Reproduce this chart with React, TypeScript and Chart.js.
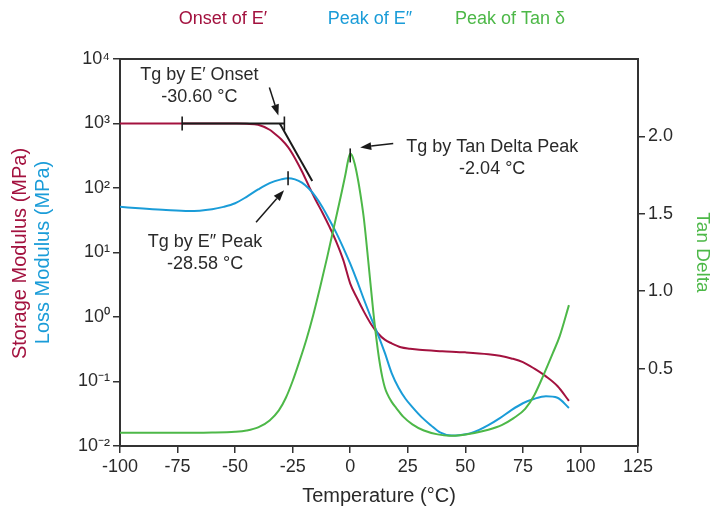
import React, { useEffect, useRef } from 'react';
import { Chart, registerables } from 'chart.js';

Chart.register(...registerables);

const FONT = '"Liberation Sans", Arial, sans-serif';
const TEXT = '#2a2a2a';
const AXIS = '#333333';
const RED = '#A3123F';
const BLUE = '#1A9CD8';
const GREEN = '#4DB848';

// Storage modulus E' (MPa)
const storageTemps = [-100, -80, -60, -50, -45, -40, -35, -33, -30, -27, -24, -21, -18, -15, -12, -9, -6, -3, 0, 3, 6, 9, 12, 15, 18, 22, 26, 30, 40, 50, 60, 65, 70, 75, 80, 85, 90, 95];
const storageMPa = [1000, 1000, 1000, 998, 990, 955, 800, 705, 570, 430, 290, 182, 108, 65, 41, 25, 14.5, 7.6, 3.3, 1.95, 1.2, 0.78, 0.56, 0.445, 0.39, 0.34, 0.322, 0.31, 0.295, 0.283, 0.265, 0.25, 0.228, 0.2, 0.158, 0.12, 0.085, 0.05];

// Loss modulus E'' (MPa)
const lossTemps = [-100, -90, -80, -70, -60, -55, -50, -45, -40, -35, -30, -27, -24, -21, -18, -15, -12, -9, -6, -3, 0, 3, 6, 9, 12, 15, 18, 21, 24, 27, 31, 35, 39, 44, 48, 52, 56, 60, 65, 70, 75, 80, 85, 90, 95];
const lossMPa = [51, 48, 45.5, 44, 47, 51, 58, 73, 95, 119, 136, 142, 136, 121, 98, 73, 50, 32, 20, 11.8, 6.7, 3.6, 1.85, 0.98, 0.54, 0.28, 0.135, 0.08, 0.054, 0.04, 0.028, 0.021, 0.0162, 0.0145, 0.0148, 0.0157, 0.0178, 0.021, 0.027, 0.036, 0.046, 0.054, 0.059, 0.056, 0.039];

// Tan delta
const tanTemps = [-100, -80, -60, -50, -45, -40, -35, -31, -28, -25, -22, -19, -16, -13, -10, -7, -4, -2, -1, 0, 1, 2, 3.5, 5, 6, 8, 10, 12, 13, 14, 15, 16, 18, 20, 23, 27, 32, 38, 43, 48, 54, 60, 66, 71, 76, 80, 84, 88, 91, 95];
const tanDelta = [0.085, 0.085, 0.087, 0.092, 0.1, 0.12, 0.165, 0.23, 0.31, 0.42, 0.55, 0.69, 0.85, 1.03, 1.22, 1.42, 1.62, 1.76, 1.84, 1.89, 1.87, 1.82, 1.71, 1.57, 1.46, 1.17, 0.87, 0.62, 0.52, 0.44, 0.38, 0.34, 0.285, 0.245, 0.19, 0.14, 0.1, 0.075, 0.066, 0.07, 0.084, 0.105, 0.137, 0.18, 0.24, 0.33, 0.46, 0.6, 0.71, 0.91];

const yTickValues = [0.01, 0.1, 1, 10, 100, 1000, 10000];
const yTickLabels = ['10⁻²', '10⁻¹', '10⁰', '10¹', '10²', '10³', '10⁴'];
const y2TickValues = [0.5, 1.0, 1.5, 2.0];
const legendTexts = ['Onset of E′', 'Peak of E″', 'Peak of Tan δ'];
const legendColors = [RED, BLUE, GREEN];

// Annotation values
const onsetTg = -30.6;
const onsetMarkX = -28.6;
const onsetFromX = -73;
const plateauMPa = 1000;
const tangentEndX = -16.5;
const tangentEndMPa = 128;
const lossMarkX = -27;
const lossPeakMPa = 142;
const tanMarkX = 0;
const tanPeakValue = 1.89;
const onsetLabel = ['Tg by E′ Onset', '-30.60 °C'];
const lossLabel = ['Tg by E″ Peak', '-28.58 °C'];
const tanLabel = ['Tg by Tan Delta Peak', '-2.04 °C'];

function toPoints(xs: number[], ys: number[]) {
  return xs.map((x, i) => ({ x, y: ys[i] }));
}

function drawArrow(ctx: CanvasRenderingContext2D, x1: number, y1: number, x2: number, y2: number) {
  const ang = Math.atan2(y2 - y1, x2 - x1);
  const L = 11;
  const W = 4;
  const bx = x2 - L * Math.cos(ang);
  const by = y2 - L * Math.sin(ang);
  ctx.beginPath();
  ctx.moveTo(x1, y1);
  ctx.lineTo(bx, by);
  ctx.stroke();
  ctx.beginPath();
  ctx.moveTo(x2, y2);
  ctx.lineTo(bx + W * Math.sin(ang), by - W * Math.cos(ang));
  ctx.lineTo(bx - W * Math.sin(ang), by + W * Math.cos(ang));
  ctx.closePath();
  ctx.fill();
}

function vTick(ctx: CanvasRenderingContext2D, x: number, y: number, half = 7) {
  ctx.beginPath();
  ctx.moveTo(x, y - half);
  ctx.lineTo(x, y + half);
  ctx.stroke();
}

const annotatePlugin = {
  id: 'annotate',
  afterDatasetsDraw(chart: any) {
    const { ctx, chartArea: a, scales } = chart;
    const sx = scales.x;
    const sy = scales.y;
    const s2 = scales.y2;
    ctx.save();
    // top border of the frame
    ctx.strokeStyle = AXIS;
    ctx.lineWidth = 2;
    ctx.beginPath();
    ctx.moveTo(a.left - 1, a.top);
    ctx.lineTo(a.right + 1, a.top);
    ctx.stroke();

    ctx.strokeStyle = '#1a1a1a';
    ctx.fillStyle = '#1a1a1a';
    ctx.lineWidth = 2;

    // Onset of E'
    const py = sy.getPixelForValue(plateauMPa);
    const mx = sx.getPixelForValue(onsetMarkX);
    const fx = sx.getPixelForValue(onsetFromX);
    ctx.beginPath();
    ctx.moveTo(fx, py);
    ctx.lineTo(mx, py);
    ctx.stroke();
    ctx.lineWidth = 1.6;
    vTick(ctx, fx, py);
    vTick(ctx, mx, py);
    ctx.lineWidth = 2;
    ctx.beginPath();
    ctx.moveTo(sx.getPixelForValue(onsetTg), py);
    ctx.lineTo(sx.getPixelForValue(tangentEndX), sy.getPixelForValue(tangentEndMPa));
    ctx.stroke();
    ctx.lineWidth = 1.5;
    drawArrow(ctx, mx - 15, py - 36, mx - 6, py - 8);

    // Peak of E''
    const lx = sx.getPixelForValue(lossMarkX);
    const ly = sy.getPixelForValue(lossPeakMPa);
    ctx.lineWidth = 1.6;
    vTick(ctx, lx, ly);
    ctx.lineWidth = 1.5;
    drawArrow(ctx, lx - 32, ly + 44, lx - 4, ly + 12);

    // Peak of tan delta
    const tx = sx.getPixelForValue(tanMarkX);
    const ty = s2.getPixelForValue(tanPeakValue);
    ctx.lineWidth = 1.6;
    vTick(ctx, tx, ty + 2);
    ctx.lineWidth = 1.5;
    drawArrow(ctx, tx + 43, ty - 10, tx + 10, ty - 6);

    // labels
    ctx.fillStyle = TEXT;
    ctx.font = `18px ${FONT}`;
    ctx.textAlign = 'center';
    ctx.textBaseline = 'middle';
    ctx.fillText(onsetLabel[0], mx - 85, py - 48);
    ctx.fillText(onsetLabel[1], mx - 85, py - 26);
    ctx.fillText(lossLabel[0], lx - 83, ly + 64);
    ctx.fillText(lossLabel[1], lx - 83, ly + 86);
    ctx.fillText(tanLabel[0], tx + 142, ty - 6);
    ctx.fillText(tanLabel[1], tx + 142, ty + 16);
    ctx.restore();
  },
  afterDraw(chart: any) {
    const { ctx, chartArea: a } = chart;
    ctx.save();
    // top legend
    ctx.font = `18px ${FONT}`;
    ctx.textAlign = 'center';
    ctx.textBaseline = 'middle';
    const centers = [223, 370, 510];
    legendTexts.forEach((t, i) => {
      ctx.fillStyle = legendColors[i];
      ctx.fillText(t, centers[i], 19);
    });
    // left two-colour axis title
    const cy = (a.top + a.bottom) / 2;
    ctx.font = `20px ${FONT}`;
    ctx.save();
    ctx.translate(20, cy + 1);
    ctx.rotate(-Math.PI / 2);
    ctx.fillStyle = RED;
    ctx.fillText('Storage Modulus (MPa)', 0, 0);
    ctx.restore();
    ctx.save();
    ctx.translate(43, cy);
    ctx.rotate(-Math.PI / 2);
    ctx.fillStyle = BLUE;
    ctx.fillText('Loss Modulus (MPa)', 0, 0);
    ctx.restore();
    ctx.restore();
  },
};

export default function App() {
  const canvasRef = useRef<HTMLCanvasElement | null>(null);

  useEffect(() => {
    if (!canvasRef.current) return;
    const tickFont = { family: FONT, size: 18 };
    const gridOpts = {
      drawOnChartArea: false,
      drawTicks: true,
      tickLength: 7,
      color: AXIS,
      lineWidth: 1.5,
    };
    const borderOpts = { display: true, color: AXIS, width: 2 };
    const chart = new Chart(canvasRef.current, {
      type: 'line',
      data: {
        datasets: [
          {
            label: 'Storage Modulus',
            data: toPoints(storageTemps, storageMPa),
            borderColor: RED,
            backgroundColor: RED,
            borderWidth: 2,
            pointRadius: 0,
            cubicInterpolationMode: 'monotone',
            yAxisID: 'y',
            order: 3,
          },
          {
            label: 'Loss Modulus',
            data: toPoints(lossTemps, lossMPa),
            borderColor: BLUE,
            backgroundColor: BLUE,
            borderWidth: 2,
            pointRadius: 0,
            cubicInterpolationMode: 'monotone',
            yAxisID: 'y',
            order: 2,
          },
          {
            label: 'Tan Delta',
            data: toPoints(tanTemps, tanDelta),
            borderColor: GREEN,
            backgroundColor: GREEN,
            borderWidth: 2,
            pointRadius: 0,
            cubicInterpolationMode: 'monotone',
            yAxisID: 'y2',
            order: 1,
          },
        ],
      },
      options: {
        responsive: false,
        animation: false,
        events: [],
        layout: { padding: { top: 59, left: 0, right: 0, bottom: 0 } },
        plugins: {
          legend: { display: false },
          tooltip: { enabled: false },
          title: { display: false },
        },
        scales: {
          x: {
            type: 'linear',
            min: -100,
            max: 125,
            ticks: { stepSize: 25, font: tickFont, color: TEXT, padding: 3, maxRotation: 0 },
            grid: gridOpts,
            border: borderOpts,
            title: {
              display: true,
              text: 'Temperature (°C)',
              color: TEXT,
              font: { family: FONT, size: 20 },
              padding: { top: 0, bottom: 2 },
            },
            afterFit: (s: any) => {
              s.height = 64;
            },
          },
          y: {
            type: 'logarithmic',
            position: 'left',
            min: 0.01,
            max: 10000,
            afterBuildTicks: (s: any) => {
              s.ticks = yTickValues.map((v) => ({ value: v }));
            },
            ticks: {
              font: tickFont,
              color: TEXT,
              padding: 3,
              callback: (v: any) => {
                const i = yTickValues.indexOf(Number(v));
                return i >= 0 ? yTickLabels[i] : '';
              },
            },
            grid: gridOpts,
            border: borderOpts,
            afterFit: (s: any) => {
              s.width = 120;
            },
          },
          y2: {
            type: 'linear',
            position: 'right',
            min: 0,
            max: 2.5,
            afterBuildTicks: (s: any) => {
              s.ticks = y2TickValues.map((v) => ({ value: v }));
            },
            ticks: {
              font: tickFont,
              color: TEXT,
              padding: 3,
              callback: (v: any) => Number(v).toFixed(1),
            },
            grid: gridOpts,
            border: borderOpts,
            title: {
              display: true,
              text: 'Tan Delta',
              color: GREEN,
              font: { family: FONT, size: 19 },
              padding: { top: 13, bottom: 0 },
            },
            afterFit: (s: any) => {
              s.width = 89;
            },
          },
        },
      },
      plugins: [annotatePlugin],
    } as any);
    return () => chart.destroy();
  }, []);

  return (
    <div style={{ position: 'absolute', left: 0, top: 0, width: 727, height: 510, background: '#fff' }}>
      <canvas ref={canvasRef} width={727} height={510} style={{ display: 'block' }} />
    </div>
  );
}
